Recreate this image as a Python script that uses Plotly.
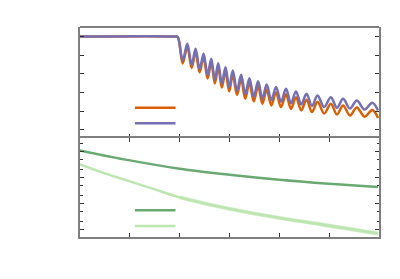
import plotly.graph_objects as go

# ---- top panel data (normalised signal) ----
top_x = [0, 1.9, 1.96,
         2.06, 2.154, 2.24, 2.32, 2.40, 2.48, 2.56, 2.634, 2.706, 2.774,
         2.846, 2.92, 2.994, 3.066, 3.15, 3.234, 3.316, 3.40, 3.486, 3.574,
         3.66, 3.746, 3.84, 3.934, 4.034, 4.134, 4.234, 4.334, 4.44, 4.546,
         4.656, 4.766, 4.90, 5.034, 5.156, 5.28, 5.416, 5.554, 5.71, 5.866, 5.98]
purple_y = [1.0, 1.0, 0.995,
            0.743, 0.922, 0.697, 0.868, 0.651, 0.815, 0.587, 0.761, 0.535, 0.714,
            0.494, 0.671, 0.453, 0.636, 0.418, 0.589, 0.380, 0.553, 0.354, 0.521,
            0.332, 0.486, 0.316, 0.457, 0.301, 0.439, 0.284, 0.410, 0.270, 0.386,
            0.255, 0.368, 0.243, 0.349, 0.235, 0.332, 0.227, 0.314, 0.217, 0.289, 0.205]
orange_y = [1.0, 1.0, 0.995,
            0.711, 0.889, 0.663, 0.833, 0.615, 0.778, 0.549, 0.723, 0.496, 0.674,
            0.453, 0.629, 0.410, 0.592, 0.373, 0.542, 0.332, 0.504, 0.304, 0.469,
            0.278, 0.431, 0.260, 0.400, 0.242, 0.379, 0.223, 0.348, 0.207, 0.321,
            0.189, 0.300, 0.174, 0.279, 0.164, 0.260, 0.153, 0.239, 0.140, 0.210, 0.125]

# ---- bottom panel data (log scale) ----
dg_x = [0, 1, 2, 3, 4, 5, 5.98]
dg_y = [1.09, 0.452, 0.217, 0.128, 0.0824, 0.0578, 0.0429]
lg_x = [0, 0.5, 1, 1.5, 2, 3, 4, 5, 5.98]
lg_y = [0.318, 0.1436, 0.0710, 0.0350, 0.0173, 0.00627, 0.00283, 0.00142, 0.000721]
lg_noise_start = 2.0

ORANGE = "#d95f02"
PURPLE = "#7570b3"
DGREEN = "#6aaa72"
LGREEN = "#bde5b0"
FRAME = "#7f7f7f"
TICK = "#333333"

noisy_x = [x for x in lg_x if x >= lg_noise_start]
noisy_y = [y for x, y in zip(lg_x, lg_y) if x >= lg_noise_start]

fig = go.Figure()
fig.add_trace(go.Scatter(x=top_x, y=orange_y, mode="lines", line=dict(color=ORANGE, width=2.5, shape="spline"),
                         xaxis="x", yaxis="y", showlegend=False))
fig.add_trace(go.Scatter(x=top_x, y=purple_y, mode="lines", line=dict(color=PURPLE, width=2.5, shape="spline"),
                         xaxis="x", yaxis="y", showlegend=False))
fig.add_trace(go.Scatter(x=dg_x, y=dg_y, mode="lines", line=dict(color=DGREEN, width=2.5, shape="spline"),
                         xaxis="x2", yaxis="y2", showlegend=False))
fig.add_trace(go.Scatter(x=lg_x, y=lg_y, mode="lines", line=dict(color=LGREEN, width=2.5, shape="spline"),
                         xaxis="x2", yaxis="y2", showlegend=False))
fig.add_trace(go.Scatter(x=noisy_x, y=noisy_y, mode="lines", line=dict(color=LGREEN, width=4, shape="spline"),
                         opacity=0.7, xaxis="x2", yaxis="y2", showlegend=False))

common = dict(showgrid=False, zeroline=False, showticklabels=False,
              linecolor=FRAME, linewidth=2, ticks="inside", tickcolor=TICK, ticklen=4, tickwidth=1)

fig.update_layout(
    width=400, height=279, paper_bgcolor="white", plot_bgcolor="white",
    margin=dict(l=72, r=28.5, t=18.5, b=50.3),
    xaxis=dict(domain=[0, 1], range=[0, 6], dtick=1, anchor="y", showline=False, **common),
    yaxis=dict(domain=[0.472, 1], range=[-0.088, 1.102], dtick=0.2, tick0=0, anchor="x", showline=True,
               mirror="ticks", **common),
    xaxis2=dict(domain=[0, 1], range=[0, 6], dtick=1, anchor="y2", showline=True, mirror="ticks", **common),
    yaxis2=dict(domain=[0, 0.472], type="log", range=[-3.28, 0.517], dtick=1, anchor="x2", showline=True,
                mirror="ticks",
                minor=dict(ticks="inside", dtick="D2", ticklen=2.5, tickcolor=TICK, showgrid=False), **common),
    shapes=[
        dict(type="line", xref="x domain", yref="y domain", x0=0, x1=1, y0=1, y1=1,
             line=dict(color=FRAME, width=2)),
        dict(type="line", xref="x domain", yref="y domain", x0=0.1836, x1=0.3194, y0=0.272, y1=0.272,
             line=dict(color=ORANGE, width=2.5)),
        dict(type="line", xref="x domain", yref="y domain", x0=0.1836, x1=0.3194, y0=0.133, y1=0.133,
             line=dict(color=PURPLE, width=2.5)),
        dict(type="line", xref="x2 domain", yref="y2 domain", x0=0.1836, x1=0.3194, y0=0.269, y1=0.269,
             line=dict(color=DGREEN, width=2.5)),
        dict(type="line", xref="x2 domain", yref="y2 domain", x0=0.1836, x1=0.3194, y0=0.111, y1=0.111,
             line=dict(color=LGREEN, width=2.5)),
    ],
)

fig.write_html("out.html")
